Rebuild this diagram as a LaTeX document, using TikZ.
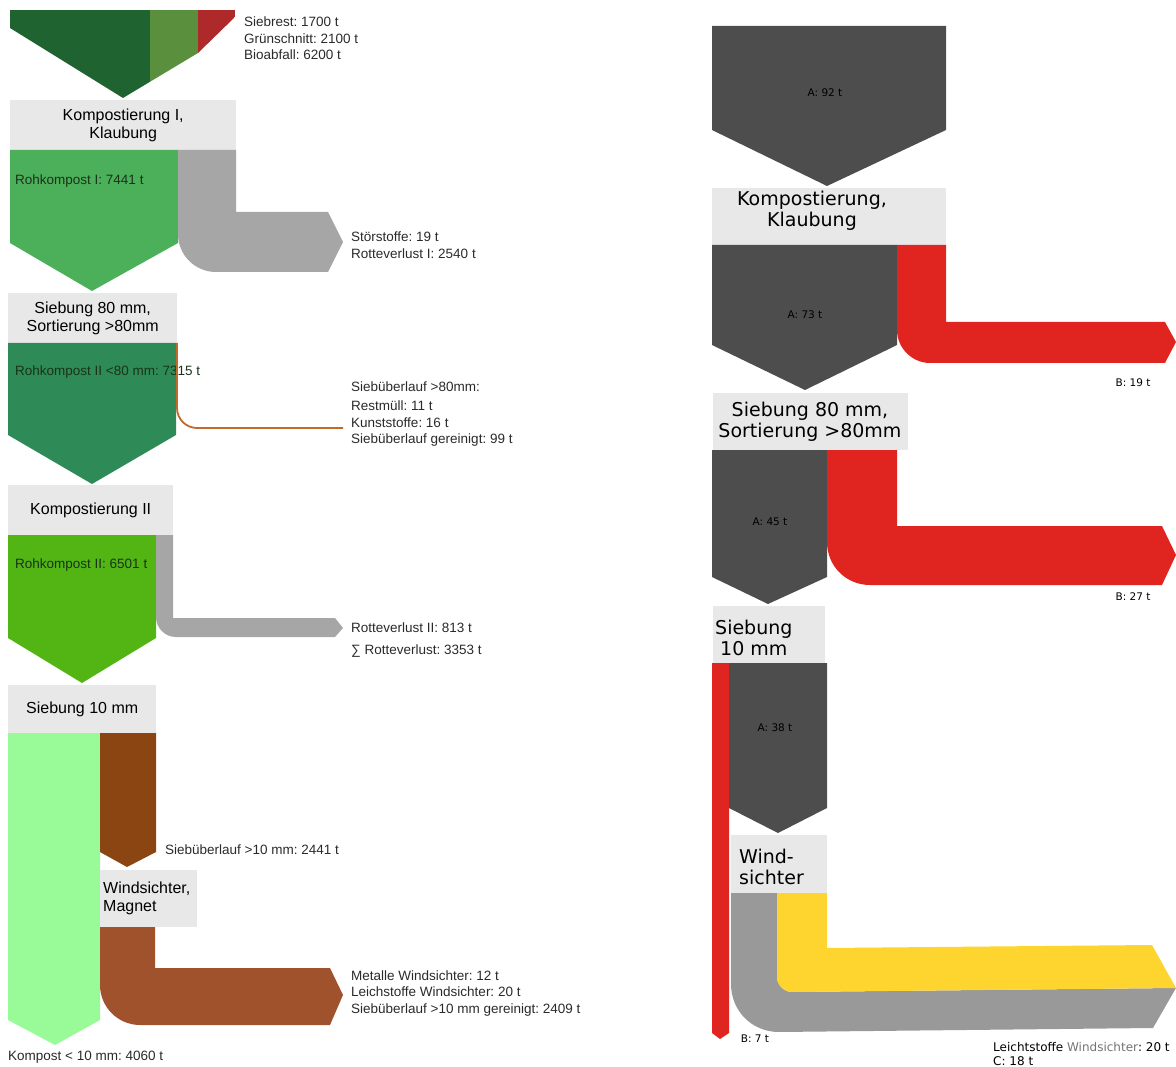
\documentclass[tikz,border=0pt]{standalone}
\usepackage{fontspec}
\setmainfont{Liberation Sans}
\newfontfamily\dejavu{DejaVu Sans}
\usetikzlibrary{positioning}
\frenchspacing

\definecolor{boxgray}{HTML}{E8E8E8}
\definecolor{inDark}{HTML}{1F6430}
\definecolor{inMid}{HTML}{5A8F3E}
\definecolor{inRed}{HTML}{AE2A2A}
\definecolor{rohI}{HTML}{4CAF5A}
\definecolor{rohII}{HTML}{2E8B58}
\definecolor{rohIIb}{HTML}{52B514}
\definecolor{kompost}{HTML}{98FB98}
\definecolor{ueberlauf}{HTML}{8B4513}
\definecolor{gereinigt}{HTML}{A0522D}
\definecolor{verlust}{HTML}{A6A6A6}
\definecolor{sortline}{HTML}{C0692A}
\definecolor{restA}{HTML}{4D4D4D}
\definecolor{restB}{HTML}{E02420}
\definecolor{restC}{HTML}{FDD52E}
\definecolor{leicht}{HTML}{999999}
\definecolor{lbltext}{HTML}{2A2A2A}
\definecolor{flowtext}{HTML}{1A331A}

\tikzset{
  procbox/.style={fill=boxgray, inner sep=0pt, anchor=north west, align=center,
    font=\fontsize{16}{18}\selectfont},
  procboxR/.style={fill=boxgray, inner sep=0pt, anchor=north west},
  headR/.style={font=\dejavu\fontsize{19}{21}\selectfont, align=center, inner sep=0pt},
  lbl/.style={anchor=west, align=left, inner sep=0pt, text=lbltext,
    font=\fontsize{13.5}{16.5}\selectfont},
  flowlbl/.style={anchor=west, inner sep=0pt, text=flowtext, font=\fontsize{13.5}{16}\selectfont},
  mass/.style={font=\dejavu\fontsize{10.5}{14}\selectfont, inner sep=0pt, text=black},
}

\begin{document}
\begin{tikzpicture}[x=1pt,y=-1pt]
\useasboundingbox (0,0) rectangle (1176,1067);

% Anlage 1
\begin{scope}
  \clip (10,10) -- (235,10) -- (235,17) -- (198,53) -- (123,98) -- (10,28) -- cycle;
  \fill[inDark] (10,10) rectangle (150,100);
  \fill[inMid] (150,10) rectangle (198,100);
  \fill[inRed] (198,10) rectangle (235,100);
\end{scope}
\node[lbl] (input) at (244,38.5) {Siebrest: 1700 t\\Grünschnitt: 2100 t\\Bioabfall: 6200 t};

\node[procbox, minimum width=226pt, minimum height=50pt] (kompI) at (10,100) {Kompostierung I,\\Klaubung};
\fill[rohI] (10,150) -- (178,150) -- (178,243) -- (92,291) -- (10,243) -- cycle;
\fill[verlust] (178,150) -- (236,150) -- (236,212) -- (328,212) -- (343,242) -- (328,272)
  -- (216,272) .. controls (195,272) and (178,255) .. (178,234) -- cycle;
\node[flowlbl] (rohIlbl) at (15,181) {Rohkompost I: 7441 t};
\node[lbl] (stoer) at (351,245) {Störstoffe: 19 t\\Rotteverlust I: 2540 t};

\node[procbox, minimum width=169pt, minimum height=50pt] (sieb80) at (8,293) {Siebung 80 mm,\\Sortierung >80mm};
\fill[rohII] (8,343) -- (176,343) -- (176,435) -- (92,484) -- (8,435) -- cycle;
\node[flowlbl] (rohIIlbl) at (15,372) {Rohkompost II <80 mm: 7315 t};
\draw[sortline, line width=1.8pt] (177,343) -- (177,408) .. controls (177,419) and (186,428) .. (197,428) -- (343,428);
\node[lbl] (ueber80) at (351,387) {Siebüberlauf >80mm:};
\node[lbl] (sort80) at (351,424) {Restmüll: 11 t\\Kunststoffe: 16 t\\Siebüberlauf gereinigt: 99 t};

\node[procbox, minimum width=165pt, minimum height=50pt] (kompII) at (8,485) {Kompostierung II};
\fill[rohIIb] (8,535) -- (156,535) -- (156,638) -- (82,683) -- (8,638) -- cycle;
\fill[verlust] (156,535) -- (173,535) -- (173,618) -- (335,618) -- (343,628) -- (335,637)
  -- (176,637) .. controls (165,637) and (156,628) .. (156,617) -- cycle;
\node[flowlbl] (rohIIblbl) at (15,565) {Rohkompost II: 6501 t};
\node[lbl] (rotte) at (351,640) {Rotteverlust II: 813 t\\[5pt]∑ Rotteverlust: 3353 t};

\node[procbox, minimum width=148pt, minimum height=48pt] (sieb10) at (8,685) {Siebung 10 mm};
\fill[kompost] (8,733) -- (100,733) -- (100,1020) -- (55,1045) -- (8,1020) -- cycle;
\fill[ueberlauf] (100,733) -- (156,733) -- (156,852) -- (127,867) -- (100,852) -- cycle;
\node[lbl] (ueber10) at (165,850) {Siebüberlauf >10 mm: 2441 t};
\node[procbox, minimum width=97pt, minimum height=57pt, text width=91pt, inner xsep=3pt, align=left] (wind) at (100,870) {Windsichter,\\Magnet};
\fill[gereinigt] (100,927) -- (155,927) -- (155,968) -- (330,968) -- (343,995) -- (330,1025)
  -- (140,1025) .. controls (118,1025) and (100,1007) .. (100,985) -- cycle;
\node[lbl] (metalle) at (351,993.5) {Metalle Windsichter: 12 t\\Leichstoffe Windsichter: 20 t\\Siebüberlauf >10 mm gereinigt: 2409 t};
\node[lbl] (kompost) at (8,1057) {Kompost < 10 mm: 4060 t};

% Anlage 2
\fill[restA] (712,26) -- (946,26) -- (946,130) -- (827,186) -- (712,130) -- cycle;
\node[mass] (a92) at (825,93) {A: 92 t};
\node[procboxR, minimum width=234pt, minimum height=57pt] (kompR) at (712,188) {};
\node[headR] (kompRtext) at (812,211) {Kompostierung,\\Klaubung};
\fill[restA] (712,245) -- (897,245) -- (897,345) -- (805,390) -- (712,345) -- cycle;
\node[mass] (a73) at (805,315) {A: 73 t};
\fill[restB] (897,245) -- (946,245) -- (946,322) -- (1165,322) -- (1176,342) -- (1165,363)
  -- (930,363) .. controls (912,363) and (897,348) .. (897,330) -- cycle;
\node[mass] (b19) at (1133,383) {B: 19 t};

\node[procboxR, minimum width=195pt, minimum height=57pt] (sieb80R) at (713,393) {};
\node[headR] (sieb80Rtext) at (810,422) {Siebung 80 mm,\\Sortierung >80mm};
\fill[restA] (712,450) -- (827,450) -- (827,577) -- (768,604) -- (712,577) -- cycle;
\node[mass] (a45) at (770,522) {A: 45 t};
\fill[restB] (827,450) -- (897,450) -- (897,526) -- (1162,526) -- (1176,555) -- (1162,585)
  -- (870,585) .. controls (846,585) and (827,566) .. (827,542) -- cycle;
\node[mass] (b27) at (1133,597) {B: 27 t};

\node[procboxR, minimum width=112pt, minimum height=57pt] (sieb10R) at (713,606) {};
\node[headR, anchor=west] (sieb10Rtext) at (715,638) {Siebung\\10 mm};
\fill[restB] (712,663) -- (729,663) -- (729,1033) -- (720,1039) -- (712,1033) -- cycle;
\fill[restA] (729,663) -- (827,663) -- (827,808) -- (778,833) -- (729,808) -- cycle;
\node[mass] (a38) at (775,728) {A: 38 t};
\node[mass] (b7) at (755,1039) {B: 7 t};

\node[procboxR, minimum width=96pt, minimum height=58pt] (windR) at (731,835) {};
\node[headR, anchor=west, align=left] (windRtext) at (739,867) {Wind-\\sichter};
\fill[leicht] (731,893) -- (777,893) -- (777,977) .. controls (777,985) and (784,992) .. (792,992)
  -- (1176,988) -- (1153,1028) -- (779,1032) .. controls (752,1032) and (731,1011) .. (731,984) -- cycle;
\fill[restC] (777,893) -- (827,893) -- (827,948) -- (1152,945) -- (1176,988) -- (792,992)
  .. controls (784,992) and (777,985) .. (777,977) -- cycle;
\node[mass, anchor=west, align=left, font=\dejavu\fontsize{12}{14}\selectfont] (leichtR) at (993,1054)
  {Leichtstoffe {\color{black!55}Windsichter}: 20 t\\C: 18 t};
\end{tikzpicture}
\end{document}
